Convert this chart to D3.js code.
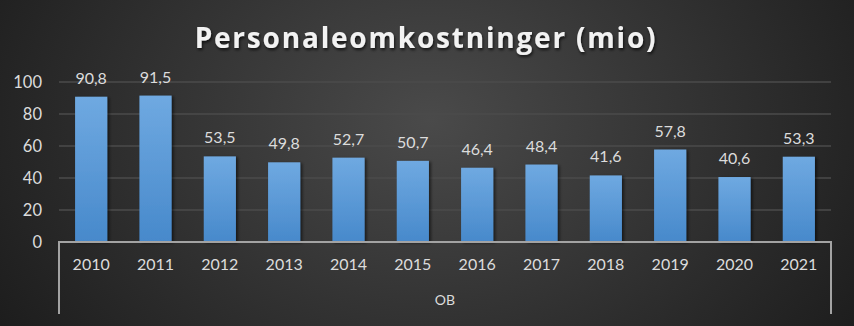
<!DOCTYPE html>
<html>
<head>
<meta charset="utf-8">
<script src="https://cdn.jsdelivr.net/npm/d3@7"></script>
<style>
  html, body { margin: 0; padding: 0; background: #2a2a2a; }
  svg { display: block; }
</style>
</head>
<body>
<svg id="chart" width="854" height="326"></svg>
<script>
// Personnel costs per year (millions)
const years = ["2010","2011","2012","2013","2014","2015","2016","2017","2018","2019","2020","2021"];
const costs = [90.8, 91.5, 53.5, 49.8, 52.7, 50.7, 46.4, 48.4, 41.6, 57.8, 40.6, 53.3];
const yTicks = [0, 20, 40, 60, 80, 100];
const groupLabel = "OB";
const title = "Personaleomkostninger (mio)";

const W = 854, H = 326;
const plot = { left: 59, right: 831, top: 82, bottom: 242 };
const font = "Lato, 'Open Sans', sans-serif";
const textColor = "#dcdcdc";

const svg = d3.select("#chart");
const defs = svg.append("defs");

// Background: soft radial glow, brightest near the upper centre
const bg = defs.append("radialGradient").attr("id", "bg")
  .attr("gradientUnits", "userSpaceOnUse")
  .attr("cx", 430).attr("cy", 120).attr("r", 520)
  .attr("gradientTransform", "translate(430,120) scale(1,0.75) translate(-430,-120)");
bg.append("stop").attr("offset", "0%").attr("stop-color", "#4a4a4a");
bg.append("stop").attr("offset", "100%").attr("stop-color", "#1c1c1c");
svg.append("rect").attr("width", W).attr("height", H).attr("fill", "url(#bg)");

// Bar fill: light blue on top fading to a deeper blue
const barGrad = defs.append("linearGradient").attr("id", "bar")
  .attr("x1", 0).attr("y1", 0).attr("x2", 0).attr("y2", 1);
barGrad.append("stop").attr("offset", "0%").attr("stop-color", "#6fa9e1");
barGrad.append("stop").attr("offset", "100%").attr("stop-color", "#4789cb");

const shadow = defs.append("filter").attr("id", "shadow")
  .attr("x", "-30%").attr("y", "-10%").attr("width", "160%").attr("height", "130%");
shadow.append("feDropShadow").attr("dx", 2).attr("dy", 1).attr("stdDeviation", 1.6)
  .attr("flood-color", "#000").attr("flood-opacity", 0.55);

const titleShadow = defs.append("filter").attr("id", "tshadow")
  .attr("x", "-10%").attr("y", "-30%").attr("width", "120%").attr("height", "160%");
titleShadow.append("feDropShadow").attr("dx", 1).attr("dy", 2).attr("stdDeviation", 1.5)
  .attr("flood-color", "#000").attr("flood-opacity", 0.7);

const x = d3.scaleBand().domain(years).range([plot.left, plot.right]).paddingInner(0.5).paddingOuter(0.25);
const y = d3.scaleLinear().domain([0, 100]).range([plot.bottom, plot.top]);

// Horizontal gridlines
svg.append("g").selectAll("line").data(yTicks.filter(d => d > 0)).join("line")
  .attr("x1", plot.left).attr("x2", plot.right)
  .attr("y1", d => y(d)).attr("y2", d => y(d))
  .attr("stroke", "#4b4b4b").attr("stroke-width", 1.3);

// Y axis labels
const yAxis = svg.append("g").attr("transform", `translate(${plot.left},0)`)
  .call(d3.axisLeft(y).tickValues(yTicks).tickSize(0).tickPadding(17));
yAxis.select(".domain").remove();
yAxis.selectAll("text").attr("fill", textColor).attr("font-size", 16.5).attr("font-family", font);

// Bars
svg.append("g").selectAll("rect").data(costs).join("rect")
  .attr("x", (d, i) => x(years[i]))
  .attr("y", d => y(d))
  .attr("width", x.bandwidth())
  .attr("height", d => y(0) - y(d))
  .attr("fill", "url(#bar)")
  .attr("filter", "url(#shadow)");

// Value labels
const fmt = d => d3.format(".1f")(d).replace(".", ",");
svg.append("g").selectAll("text").data(costs).join("text")
  .attr("x", (d, i) => x(years[i]) + x.bandwidth() / 2)
  .attr("y", d => y(d) - 13)
  .attr("text-anchor", "middle")
  .attr("fill", textColor).attr("font-size", 16).attr("font-family", font)
  .text(fmt);

// Category axis with outer frame
const xAxis = svg.append("g").attr("transform", `translate(0,${plot.bottom})`)
  .call(d3.axisBottom(x).tickSize(0).tickPadding(17));
xAxis.select(".domain").remove();
xAxis.selectAll("text").attr("fill", textColor).attr("font-size", 16).attr("font-family", font);

svg.append("path")
  .attr("d", `M${plot.left},314 V${plot.bottom} H${plot.right} V314`)
  .attr("fill", "none").attr("stroke", "#a3a3a3").attr("stroke-width", 2);

svg.append("text")
  .attr("x", (plot.left + plot.right) / 2).attr("y", 305)
  .attr("text-anchor", "middle")
  .attr("fill", textColor).attr("font-size", 14).attr("font-family", font)
  .text(groupLabel);

// Title
svg.append("text")
  .attr("x", 426).attr("y", 48)
  .attr("text-anchor", "middle")
  .attr("fill", "#f2f2f2").attr("font-size", 28).attr("font-weight", "bold")
  .attr("font-family", "'Open Sans', sans-serif")
  .attr("letter-spacing", 1.8)
  .attr("filter", "url(#tshadow)")
  .text(title);
</script>
</body>
</html>
